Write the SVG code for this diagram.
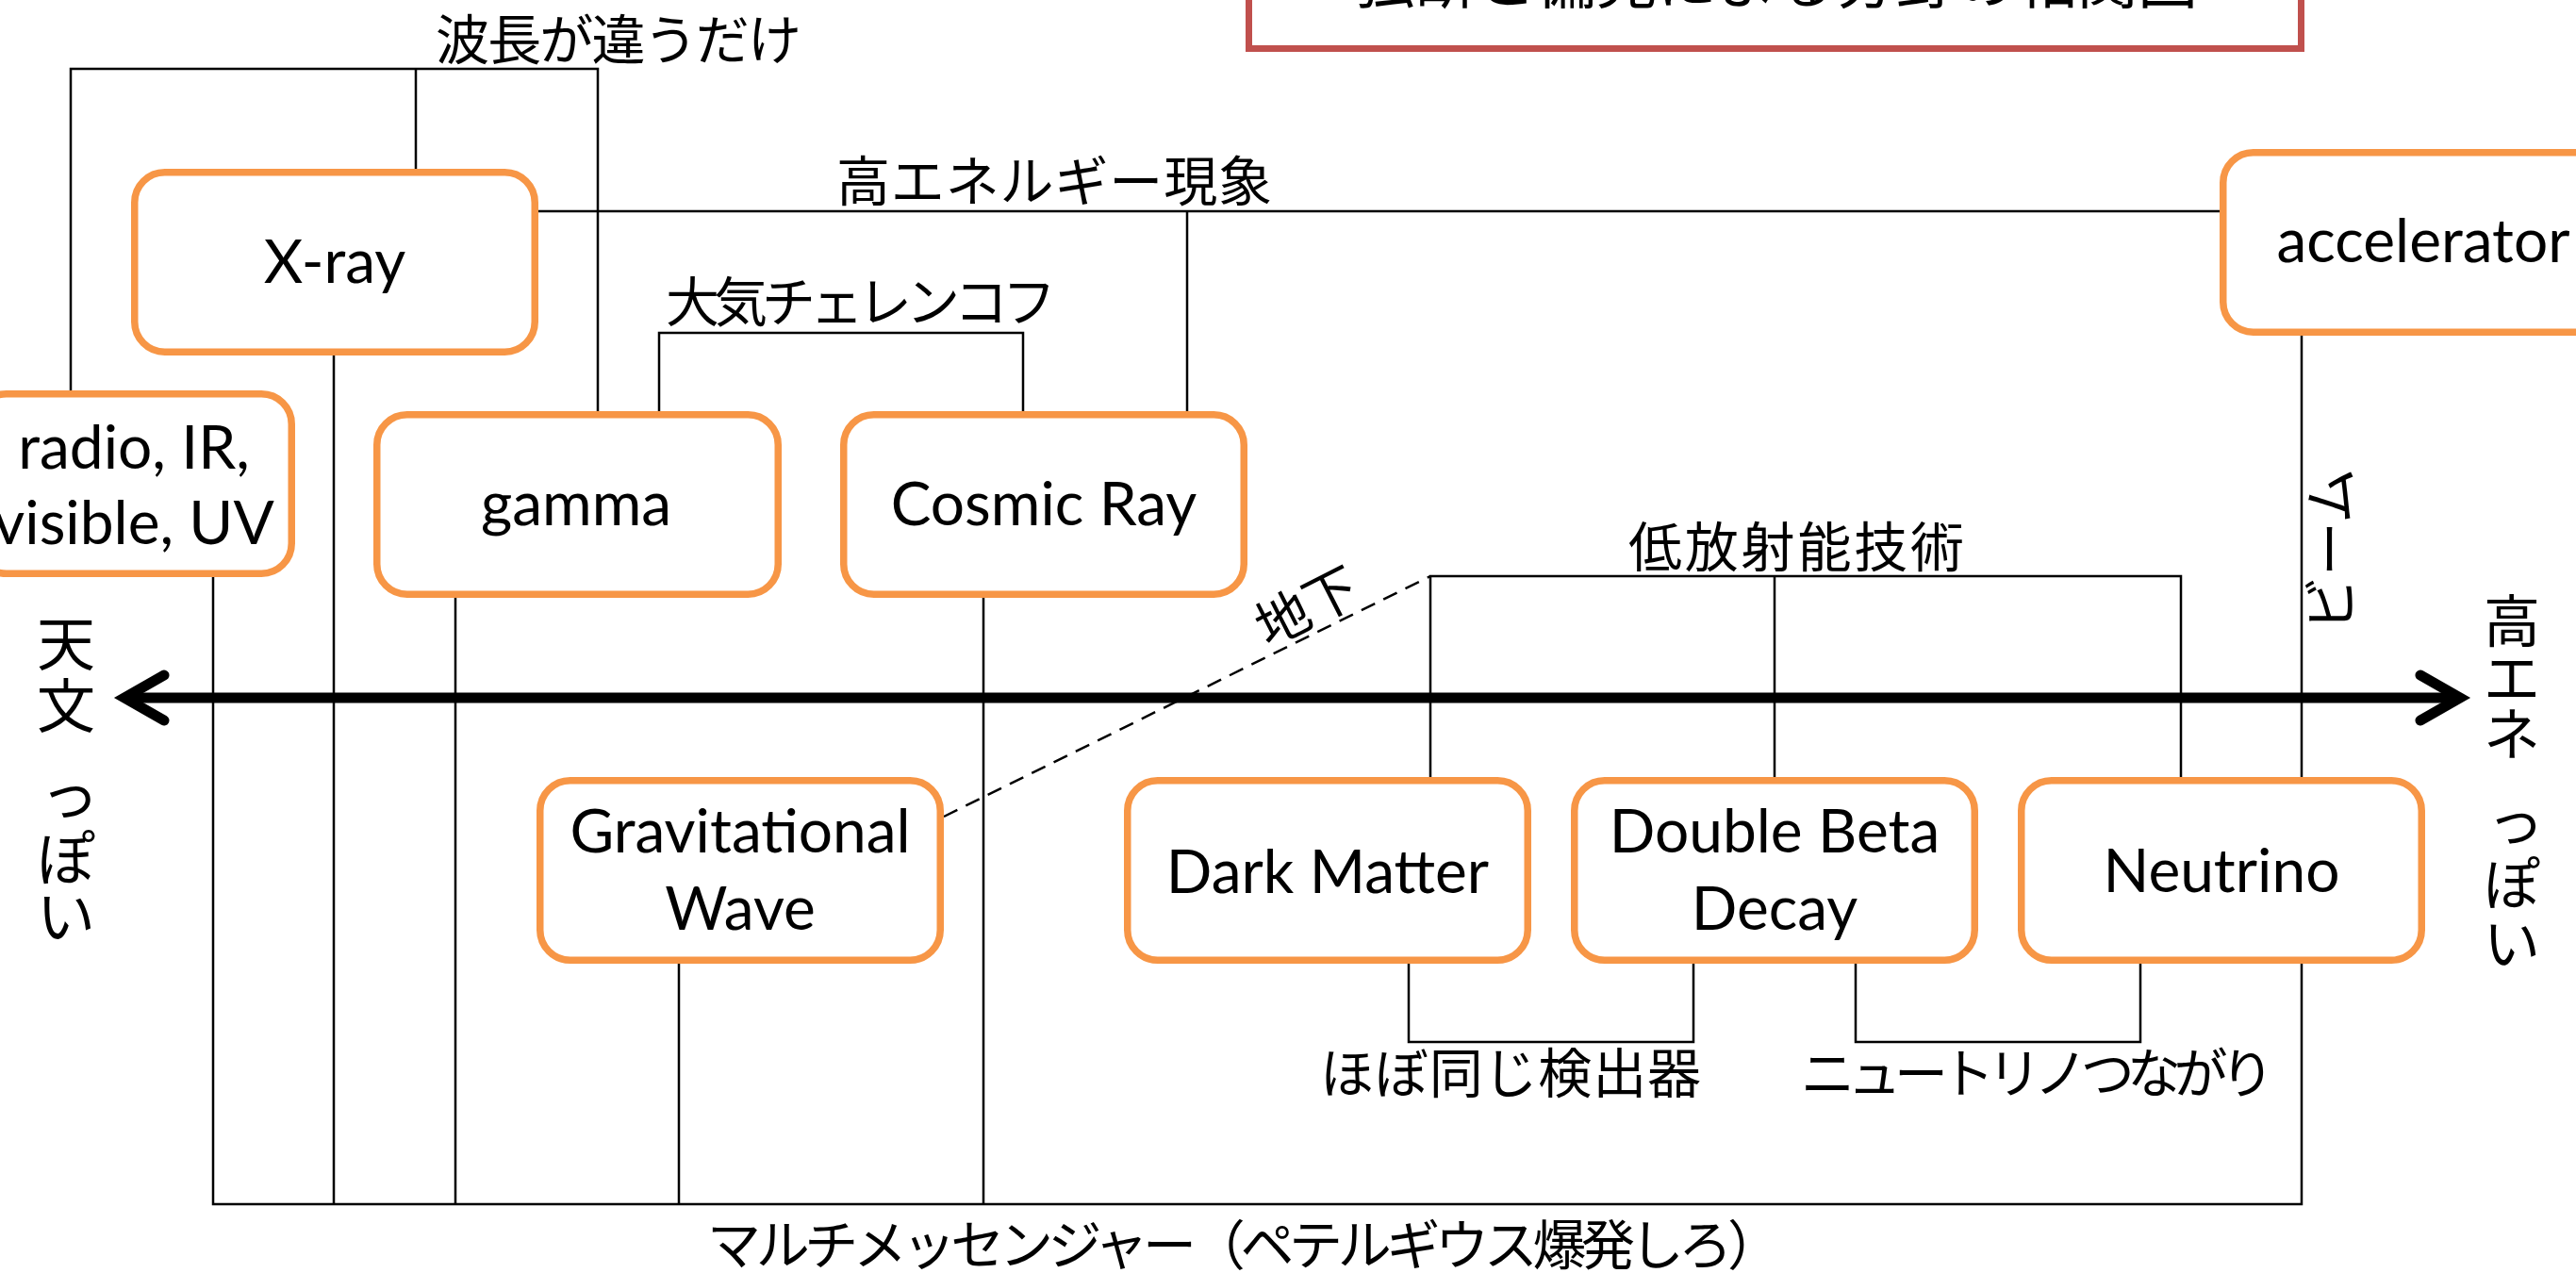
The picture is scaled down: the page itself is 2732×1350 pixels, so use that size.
<svg xmlns="http://www.w3.org/2000/svg" width="2732" height="1350" viewBox="0 0 2732 1350">
<style>
.box{fill:#fff;stroke:#F79646;stroke-width:7.5}
.t{font-family:Lato,"Noto Sans",sans-serif;font-size:64px;fill:#000;text-anchor:middle}
.jp{font-family:"Noto Sans CJK JP",sans-serif;font-size:57px;fill:#000}
.ax{font-family:"Noto Sans CJK JP",sans-serif;font-size:60px;fill:#000;text-anchor:middle}
.axl{font-size:62px}
.ln{stroke:#000;stroke-width:2.5;fill:none}
</style>
<defs>
<marker id="open" markerUnits="userSpaceOnUse" markerWidth="80" markerHeight="80" refX="0" refY="0" orient="auto-start-reverse" overflow="visible">
<path d="M-42,-24 L0,0 L-42,24" fill="none" stroke="#000" stroke-width="11" stroke-linecap="round" stroke-linejoin="miter"/>
</marker>
</defs>
<rect width="2732" height="1350" fill="#fff"/>

<g id="title">
<rect x="1324.5" y="-20" width="1116" height="71.5" fill="#fff" stroke="#C0504D" stroke-width="7"/>
<text class="jp" x="1884" y="3" text-anchor="middle" style="font-size:64px">独断と偏見による分野の相関図</text>
</g>

<g id="connectors">
<polyline class="ln" points="75,414 75,73 634,73 634,436"/>
<line class="ln" x1="441" y1="73" x2="441" y2="179"/>
<line class="ln" x1="571" y1="224" x2="2354" y2="224"/>
<line class="ln" x1="1259" y1="224" x2="1259" y2="436"/>
<polyline class="ln" points="699,436 699,353 1085,353 1085,436"/>
<line class="ln" x1="2441" y1="356" x2="2441" y2="824"/>
<polyline class="ln" points="1517,824 1517,611 2313,611 2313,824"/>
<line class="ln" x1="1882" y1="611" x2="1882" y2="824"/>
<line class="ln" x1="1001" y1="866" x2="1517" y2="611" stroke-dasharray="16 10"/>
<polyline class="ln" points="1494,1022 1494,1105 1796,1105 1796,1022"/>
<polyline class="ln" points="1968,1022 1968,1105 2270,1105 2270,1022"/>
<polyline class="ln" points="226,612 226,1277 2441,1277 2441,1022"/>
<line class="ln" x1="354" y1="377" x2="354" y2="1277"/>
<line class="ln" x1="483" y1="634" x2="483" y2="1277"/>
<line class="ln" x1="720" y1="1022" x2="720" y2="1277"/>
<line class="ln" x1="1043" y1="634" x2="1043" y2="1277"/>
</g>

<g id="connector-labels">
<text class="jp" x="462" y="63" textLength="388">波長が違うだけ</text>
<text class="jp" x="887" y="213" textLength="462">高エネルギー現象</text>
<text class="jp" x="706" y="341" textLength="414">大気チェレンコフ</text>
<text class="jp" x="1727" y="601" textLength="356">低放射能技術</text>
<text class="jp" x="1400" y="1159" textLength="404">ほぼ同じ検出器</text>
<text class="jp" x="1910" y="1159" textLength="502">ニュートリノつながり</text>
<text class="jp" x="750" y="1341" textLength="1139">マルチメッセンジャー（ペテルギウス爆発しろ）</text>
<text class="jp" transform="translate(1386,643) rotate(-27)" x="0" y="21" text-anchor="middle">地下</text>
<text class="jp" transform="translate(2493,583) rotate(-90)" x="0" y="0" text-anchor="middle" style="font-size:58px">ビーム</text>
</g>

<g id="axis">
<line x1="132" y1="740" x2="2609" y2="740" stroke="#000" stroke-width="11" marker-start="url(#open)" marker-end="url(#open)"/>
<text class="ax axl" x="70" y="706">天</text>
<text class="ax axl" x="70" y="772">文</text>
<text class="ax axl" x="74" y="866">っ</text>
<text class="ax axl" x="70" y="934">ぽ</text>
<text class="ax axl" x="70" y="995">い</text>
<text class="ax" x="2664" y="681">高</text>
<text class="ax" x="2664" y="741">エ</text>
<text class="ax" x="2664" y="801">ネ</text>
<text class="ax" x="2668" y="893">っ</text>
<text class="ax" x="2664" y="960">ぽ</text>
<text class="ax" x="2664" y="1023">い</text>
</g>

<g id="radio">
<rect class="box" x="-25.25" y="417.75" width="334.5" height="190.5" rx="32"/>
<text class="t" x="142" y="497">radio, IR,</text>
<text class="t" x="142" y="577">visible, UV</text>
</g>
<g id="xray">
<rect class="box" x="142.75" y="182.75" width="424.5" height="190.5" rx="32"/>
<text class="t" x="355" y="300">X-ray</text>
</g>
<g id="gamma">
<rect class="box" x="399.75" y="439.75" width="425.5" height="190.5" rx="32"/>
<text class="t" x="611" y="557">gamma</text>
</g>
<g id="cosmic-ray">
<rect class="box" x="894.75" y="439.75" width="424.5" height="190.5" rx="32"/>
<text class="t" x="1107" y="557">Cosmic Ray</text>
</g>
<g id="accelerator">
<rect class="box" x="2357.75" y="161.75" width="424.5" height="190.5" rx="32"/>
<text class="t" x="2570" y="278">accelerator</text>
</g>
<g id="gravitational-wave">
<rect class="box" x="572.75" y="827.75" width="424.5" height="190.5" rx="32"/>
<text class="t" x="785" y="904">Gravitational</text>
<text class="t" x="785" y="986">Wave</text>
</g>
<g id="dark-matter">
<rect class="box" x="1195.75" y="827.75" width="424.5" height="190.5" rx="32"/>
<text class="t" x="1408" y="947">Dark Matter</text>
</g>
<g id="double-beta-decay">
<rect class="box" x="1669.75" y="827.75" width="424.5" height="190.5" rx="32"/>
<text class="t" x="1882" y="904">Double Beta</text>
<text class="t" x="1882" y="986">Decay</text>
</g>
<g id="neutrino">
<rect class="box" x="2143.75" y="827.75" width="424.5" height="190.5" rx="32"/>
<text class="t" x="2356" y="946">Neutrino</text>
</g>
</svg>
